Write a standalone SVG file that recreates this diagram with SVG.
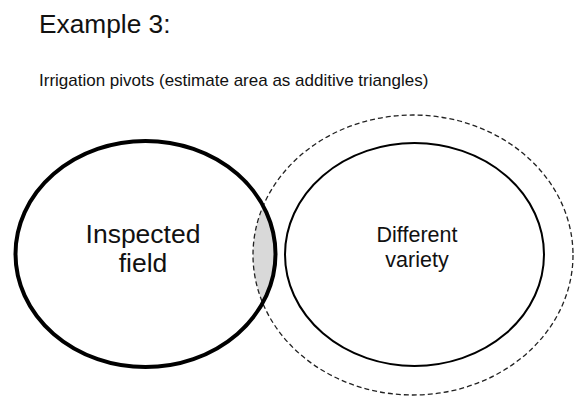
<svg xmlns="http://www.w3.org/2000/svg" width="574" height="397" viewBox="0 0 574 397">
<style>
text{font-family:"Liberation Sans",Arial,sans-serif;fill:#111}
.dash{fill:none;stroke:#222;stroke-width:1.3;stroke-dasharray:5,3}
</style>
<defs>
<clipPath id="leftClip"><ellipse cx="145.5" cy="254" rx="130" ry="113"/></clipPath>
</defs>
<rect width="574" height="397" fill="#fff"/>
<text x="39" y="33" font-size="26.3">Example 3:</text>
<text x="39" y="86" font-size="17">Irrigation pivots (estimate area as additive triangles)</text>
<g id="overlap">
<ellipse cx="413" cy="255" rx="160" ry="140" fill="#d9d9d9" clip-path="url(#leftClip)"/>
</g>
<g id="buffer">
<ellipse class="dash" cx="413" cy="255" rx="160" ry="140"/>
</g>
<g id="inspected">
<ellipse cx="145.5" cy="254" rx="130" ry="113" fill="none" stroke="#000" stroke-width="4"/>
<text x="143" y="243" font-size="26.5" text-anchor="middle">Inspected</text>
<text x="143" y="272" font-size="26.5" text-anchor="middle">field</text>
</g>
<g id="different">
<ellipse cx="414.5" cy="254.5" rx="129.5" ry="111.5" fill="none" stroke="#000" stroke-width="2"/>
<text x="417" y="242" font-size="21.5" text-anchor="middle">Different</text>
<text x="417" y="267" font-size="21.5" text-anchor="middle">variety</text>
</g>
<g id="connectors"/>
</svg>
